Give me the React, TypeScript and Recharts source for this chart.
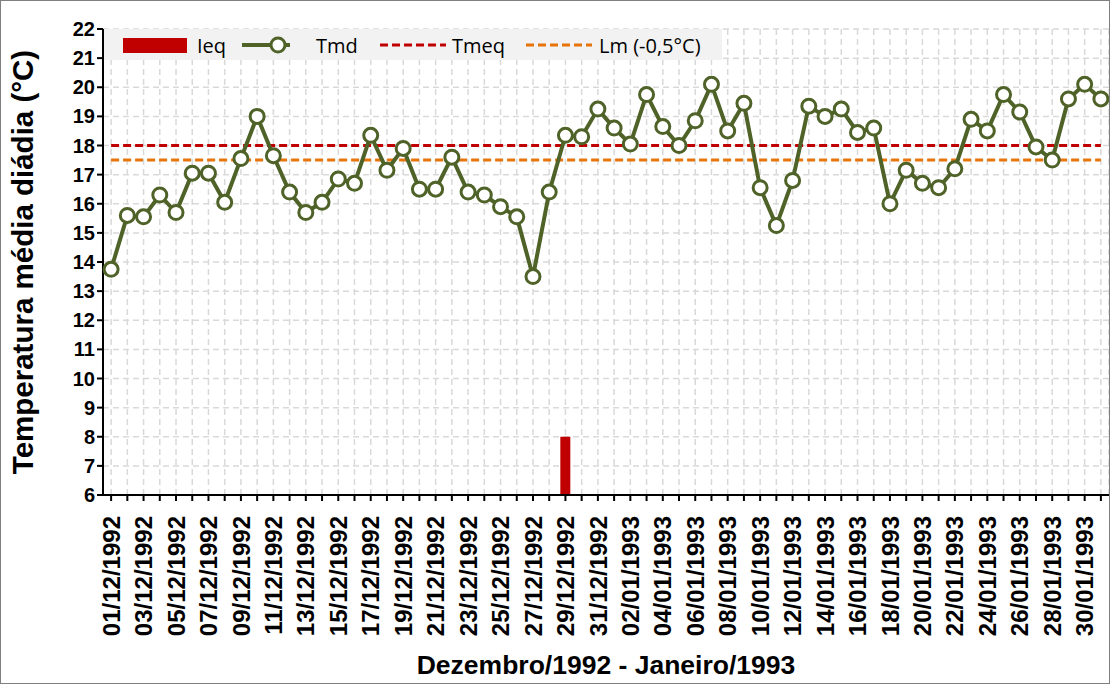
import { ComposedChart, Bar, Line, XAxis, YAxis, CartesianGrid } from 'recharts'

const DATES = [
  '01/12/1992', '02/12/1992', '03/12/1992', '04/12/1992', '05/12/1992', '06/12/1992', '07/12/1992', '08/12/1992',
  '09/12/1992', '10/12/1992', '11/12/1992', '12/12/1992', '13/12/1992', '14/12/1992', '15/12/1992', '16/12/1992',
  '17/12/1992', '18/12/1992', '19/12/1992', '20/12/1992', '21/12/1992', '22/12/1992', '23/12/1992', '24/12/1992',
  '25/12/1992', '26/12/1992', '27/12/1992', '28/12/1992', '29/12/1992', '30/12/1992', '31/12/1992',
  '01/01/1993', '02/01/1993', '03/01/1993', '04/01/1993', '05/01/1993', '06/01/1993', '07/01/1993', '08/01/1993',
  '09/01/1993', '10/01/1993', '11/01/1993', '12/01/1993', '13/01/1993', '14/01/1993', '15/01/1993', '16/01/1993',
  '17/01/1993', '18/01/1993', '19/01/1993', '20/01/1993', '21/01/1993', '22/01/1993', '23/01/1993', '24/01/1993',
  '25/01/1993', '26/01/1993', '27/01/1993', '28/01/1993', '29/01/1993', '30/01/1993', '31/01/1993',
]

// temperatura média diária (°C)
const TMD = [
  13.75, 15.6, 15.55, 16.3, 15.7, 17.05, 17.05, 16.05, 17.55, 19.0, 17.65, 16.4, 15.7, 16.05, 16.85, 16.7,
  18.35, 17.15, 17.9, 16.5, 16.5, 17.6, 16.4, 16.3, 15.9, 15.55, 13.5, 16.4, 18.35, 18.3, 19.25,
  18.6, 18.05, 19.75, 18.65, 18.0, 18.85, 20.1, 18.5, 19.45, 16.55, 15.25, 16.8, 19.35, 19.0, 19.25, 18.45,
  18.6, 16.0, 17.15, 16.7, 16.55, 17.2, 18.9, 18.5, 19.75, 19.15, 17.95, 17.5, 19.6, 20.1, 19.6,
]

// Ieq: só 29/12/1992
const IEQ: (number | null)[] = DATES.map(d => (d === '29/12/1992' ? 8 : null))

const TMEQ = 18.0
const LM = 17.5

const data = DATES.map((date, i) => ({ date, tmd: TMD[i], ieq: IEQ[i], tmeq: TMEQ, lm: LM }))

const GREEN = '#4F6228'
const RED = '#C00000'
const ORANGE = '#E8740C'
const FONT = '"Liberation Sans", Arial, sans-serif'

const DateTick = (props: any) => {
  const { x, y, payload, index } = props
  if (index % 2 !== 0) return null
  return (
    <g transform={`translate(${x},${y + 13}) rotate(-90)`}>
      <text textAnchor="end" dy="0.36em" fontSize={24} fontWeight="bold" fill="#000" fontFamily={FONT}>
        {payload.value}
      </text>
    </g>
  )
}

const LegendBox = () => (
  <div
    style={{
      position: 'absolute', left: 103, top: 28, width: 618, height: 31, background: '#F2F2F2',
      fontFamily: '"Open Sans", "DejaVu Sans", sans-serif', fontSize: 20, color: '#000',
    }}
  >
    <svg width={618} height={31} style={{ position: 'absolute', left: 0, top: 0 }}>
      <rect x={19} y={9} width={64} height={15} fill={RED} />
      <text x={93} y={24}>Ieq</text>
      <line x1={138} y1={16} x2={186} y2={16} stroke={GREEN} strokeWidth={4} />
      <circle cx={174} cy={16} r={7} fill="#fff" stroke={GREEN} strokeWidth={3} />
      <text x={212} y={24}>Tmd</text>
      <line x1={276} y1={16} x2={342} y2={16} stroke={RED} strokeWidth={3} strokeDasharray="8 4" />
      <text x={348} y={24}>Tmeq</text>
      <line x1={422} y1={16} x2={488} y2={16} stroke={ORANGE} strokeWidth={3} strokeDasharray="8 4" />
      <text x={495} y={24}>Lm (-0,5°C)</text>
    </svg>
  </div>
)

export default function App() {
  return (
    <div
      style={{
        position: 'absolute', left: 0, top: 0, width: 1110, height: 684, background: '#fff',
        boxSizing: 'border-box', border: '1px solid #7f7f7f',
      }}
    >
      <ComposedChart width={1108} height={682} data={data} margin={{ top: 28, right: 0, bottom: 0, left: 0 }}>
        <CartesianGrid stroke="#D9D9D9" strokeDasharray="6 4" strokeWidth={1.5} />
        <XAxis
          dataKey="date"
          interval={0}
          tick={<DateTick />}
          tickSize={6}
          axisLine={{ stroke: '#000', strokeWidth: 2 }}
          tickLine={{ stroke: '#000', strokeWidth: 2 }}
          height={188}
          label={{
            value: 'Dezembro/1992 - Janeiro/1993', position: 'insideBottom', offset: 9,
            style: { fontSize: 26.5, fontWeight: 'bold', fill: '#000', fontFamily: FONT },
          }}
        />
        <YAxis
          domain={[6, 22]}
          ticks={[6, 7, 8, 9, 10, 11, 12, 13, 14, 15, 16, 17, 18, 19, 20, 21, 22]}
          interval={0}
          width={102}
          tickSize={6}
          axisLine={{ stroke: '#000', strokeWidth: 2 }}
          tickLine={{ stroke: '#000', strokeWidth: 2 }}
          tick={{ fontSize: 20, fontWeight: 'bold', fill: '#000', fontFamily: FONT }}
          label={{
            value: 'Temperatura média diádia (°C)', angle: -90, position: 'insideLeft', offset: 22,
            style: { fontSize: 29.5, fontWeight: 'bold', fill: '#000', fontFamily: FONT, textAnchor: 'middle' },
          }}
        />
        <Bar dataKey="ieq" name="Ieq" fill={RED} barSize={10} isAnimationActive={false} />
        <Line
          dataKey="tmeq"
          name="Tmeq"
          stroke={RED}
          strokeWidth={3}
          strokeDasharray="8 4"
          dot={false}
          activeDot={false}
          isAnimationActive={false}
        />
        <Line
          dataKey="lm"
          name="Lm (-0,5°C)"
          stroke={ORANGE}
          strokeWidth={3}
          strokeDasharray="8 4"
          dot={false}
          activeDot={false}
          isAnimationActive={false}
        />
        <Line
          dataKey="tmd"
          name="Tmd"
          type="linear"
          stroke={GREEN}
          strokeWidth={4}
          dot={{ r: 7, fill: '#fff', stroke: GREEN, strokeWidth: 3 }}
          activeDot={false}
          isAnimationActive={false}
        />
      </ComposedChart>
      <LegendBox />
    </div>
  )
}
